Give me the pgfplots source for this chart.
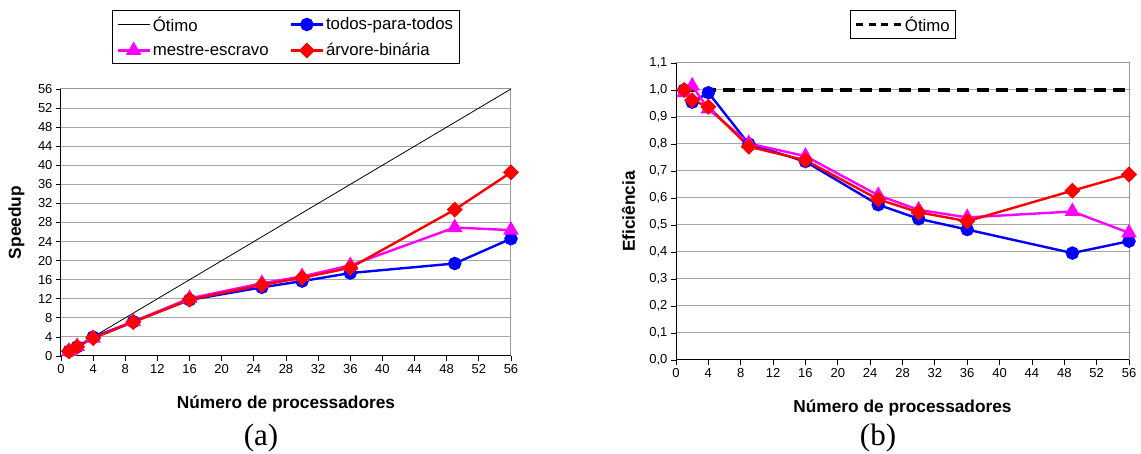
\documentclass[border=0pt]{standalone}
\usepackage{pgfplots}
\pgfplotsset{compat=1.18}
\usepackage{fontspec}
\setmainfont{Liberation Sans}
\newfontfamily\seriffont{Liberation Serif}

\definecolor{gridc}{RGB}{165,165,165}
\definecolor{framec}{RGB}{150,150,150}
\definecolor{cblue}{RGB}{0,0,255}
\definecolor{cmag}{RGB}{255,0,255}
\definecolor{cred}{RGB}{255,0,0}

\pgfplotstableread{
x  otimo todos mestre arvore
1  1   1.00  0.99  1.00
2  2   1.91  2.03  1.92
4  4   3.96  3.73  3.76
9  9   7.20  7.22  7.11
16 16  11.76 12.08 11.84
25 25  14.40 15.25 14.90
30 30  15.70 16.68 16.40
36 36  17.40 19.00 18.50
49 49  19.40 26.95 30.70
56 56  24.60 26.40 38.50
}\speedup

\pgfplotstableread{
x  otimo todos mestre arvore
1  1.0  1.000 0.990 1.000
2  1.0  0.955 1.015 0.962
4  1.0  0.990 0.930 0.938
9  1.0  0.800 0.802 0.790
16 1.0  0.735 0.755 0.740
25 1.0  0.575 0.610 0.595
30 1.0  0.523 0.556 0.547
36 1.0  0.483 0.528 0.514
49 1.0  0.396 0.550 0.627
56 1.0  0.440 0.471 0.687
}\eficiencia

\pgfplotsset{
  mystyle/.style={
    scale only axis,
    xmin=0, xmax=56, xtick distance=4,
    clip=false,
    axis line style={framec, line width=1pt},
    ymajorgrids, grid style={gridc, line width=1pt},
    tick align=outside, xtick pos=bottom, ytick pos=left,
    major tick length=5pt,
    tick style={black, line width=0.8pt},
    ticklabel style={font=\fontsize{13}{15}\selectfont},
    /pgf/number format/assume math mode=true,
    label style={font=\bfseries\fontsize{17.3}{20}\selectfont},
    legend cell align=left,
    legend style={font=\fontsize{16.8}{19}\selectfont, draw=black, line width=1pt,
      inner xsep=4pt, inner ysep=4pt, row sep=7pt,
      /tikz/every even column/.append style={column sep=19pt}},
  },
  sblue/.style={cblue, line width=2.4pt, mark=*, mark size=5.5pt, mark options={solid}},
  smag/.style={cmag, line width=2.4pt, mark=triangle*, mark size=6.6pt, mark options={solid}},
  sred/.style={cred, line width=2.4pt, mark=square*, mark size=4.5pt, mark options={solid, rotate=45}},
}

\begin{document}
\begin{tikzpicture}
\useasboundingbox (0,0) rectangle (1141pt,454pt);

\begin{axis}[mystyle,
  at={(61pt,98pt)}, anchor=south west,
  width=450pt, height=267pt,
  ymin=0, ymax=56, ytick distance=4,
  xlabel={Número de processadores},
  ylabel={Speedup},
  xlabel style={at={(axis description cs:0.5,-0.18)}, anchor=center},
  ylabel style={at={(axis description cs:-0.099,0.5)}, anchor=center},
  legend columns=2,
  legend style={at={(axis description cs:0.1133,1.296)}, anchor=north west},
  legend image code/.code={\draw[mark repeat=2,mark phase=2,#1] plot coordinates {(0pt,0pt) (16pt,0pt) (32pt,0pt)};},
]
\draw[black, line width=1pt] (rel axis cs:0,1) -- (rel axis cs:0,0) -- (rel axis cs:1,0);
\addplot[black, line width=0.8pt, no marks] table[x=x, y=otimo] {\speedup};
\addlegendentry{Ótimo}
\addplot[sblue] table[x=x, y=todos] {\speedup};
\addlegendentry{todos-para-todos}
\addplot[smag] table[x=x, y=mestre] {\speedup};
\addlegendentry{mestre-escravo}
\addplot[sred] table[x=x, y=arvore] {\speedup};
\addlegendentry{árvore-binária}
\end{axis}

\begin{axis}[mystyle,
  at={(676pt,94pt)}, anchor=south west,
  width=453pt, height=297pt,
  ymin=0, ymax=1.1,
  ytick={0,0.1,0.2,0.3,0.4,0.5,0.6,0.7,0.8,0.9,1.0,1.1},
  yticklabel style={/pgf/number format/.cd, fixed, fixed zerofill, precision=1, use comma},
  xlabel={Número de processadores},
  ylabel={Eficiência},
  xlabel style={at={(axis description cs:0.5,-0.1616)}, anchor=center},
  ylabel style={at={(axis description cs:-0.1046,0.5)}, anchor=center},
  legend style={at={(axis description cs:0.384,1.178)}, anchor=north west},
  legend image code/.code={\draw[#1, dash pattern=on 7pt off 5.5pt] (0pt,0pt) -- (45pt,0pt);},
]
\draw[black, line width=1pt] (rel axis cs:0,1) -- (rel axis cs:0,0) -- (rel axis cs:1,0);
\addplot[black, line width=3.5pt, no marks, dash pattern=on 12pt off 7.5pt] table[x=x, y=otimo] {\eficiencia};
\addlegendentry{Ótimo}
\addplot[sblue, forget plot] table[x=x, y=todos] {\eficiencia};
\addplot[smag, forget plot] table[x=x, y=mestre] {\eficiencia};
\addplot[sred, forget plot] table[x=x, y=arvore] {\eficiencia};
\end{axis}

\node[font=\seriffont\fontsize{31}{33}\selectfont, anchor=base] at (261pt,8pt) {(a)};
\node[font=\seriffont\fontsize{31}{33}\selectfont, anchor=base] at (878pt,8pt) {(b)};
\end{tikzpicture}
\end{document}
